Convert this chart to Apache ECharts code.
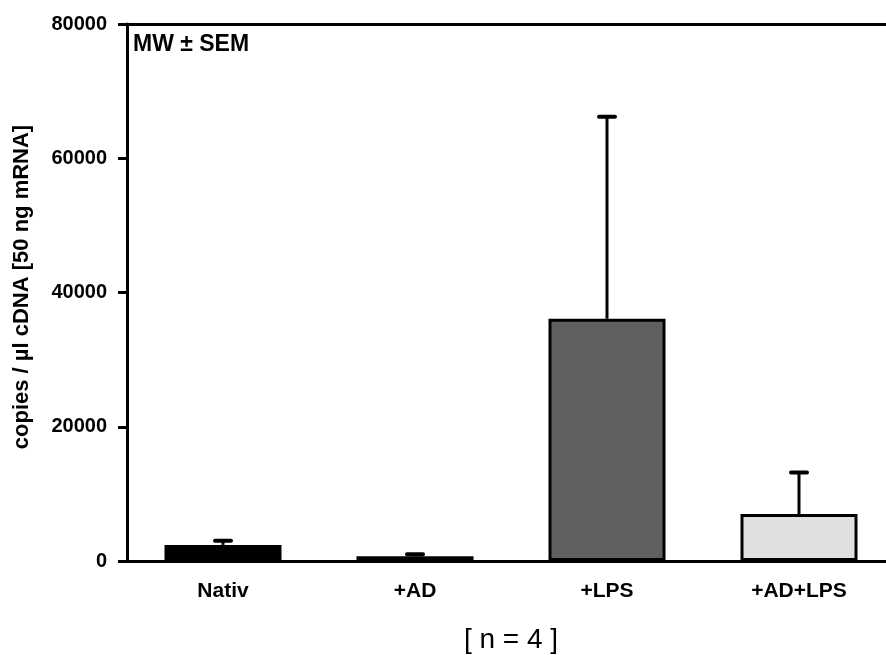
<!DOCTYPE html>
<html>
<head>
<meta charset="utf-8">
<script src="https://cdn.jsdelivr.net/npm/echarts@6/dist/echarts.min.js"></script>
<style>
  html, body { margin: 0; padding: 0; background: #fff; }
  #main { width: 886px; height: 655px; }
</style>
</head>
<body>
<div id="main"></div>
<script>
// data
var categories = ['Nativ', '+AD', '+LPS', '+AD+LPS'];
var means = [2400, 700, 36100, 7000];
var errTops = [3000, 1000, 66200, 13200];
var barColors = ['#000000', '#000000', '#606060', '#e0e0e0'];
var yTicks = [0, 20000, 40000, 60000, 80000];

var FONT = '"Liberation Sans", Arial, sans-serif';

function drawChart() {
    var myChart = echarts.init(document.getElementById('main'));

    var barData = means.map(function (v, i) {
        return { value: v, itemStyle: { color: barColors[i] } };
    });
    var errData = means.map(function (v, i) {
        return [i, v, errTops[i]];
    });

    var option = {
        animation: false,
        grid: { left: 127, top: 24, width: 768, height: 537, outerBoundsMode: 'none' },
        graphic: [
            {
                type: 'text', x: 133, y: 45,
                style: { text: 'MW ± SEM', font: 'bold 23px ' + FONT, fill: '#000', verticalAlign: 'middle' }
            },
            {
                type: 'text', x: 22, y: 287, rotation: Math.PI / 2,
                style: { text: 'copies / µl cDNA [50 ng mRNA]', font: 'bold 22px ' + FONT, fill: '#000', align: 'center', verticalAlign: 'middle' }
            },
            {
                type: 'text', x: 511, y: 640,
                style: { text: '[ n = 4 ]', font: '28px ' + FONT, fill: '#000', align: 'center', verticalAlign: 'middle' }
            }
        ],
        xAxis: [
            {
                type: 'category',
                data: categories,
                axisLine: { lineStyle: { color: '#000', width: 3 } },
                axisTick: { alignWithLabel: true, length: 7, lineStyle: { color: '#000', width: 1 } },
                axisLabel: { color: '#000', fontFamily: FONT, fontWeight: 'bold', fontSize: 21, margin: 20 }
            },
            {
                type: 'category',
                position: 'top',
                data: categories,
                axisLine: { lineStyle: { color: '#000', width: 3 } },
                axisTick: { show: false },
                axisLabel: { show: false }
            }
        ],
        yAxis: {
            type: 'value',
            min: yTicks[0],
            max: yTicks[yTicks.length - 1],
            interval: 20000,
            splitLine: { show: false },
            axisLine: { show: true, lineStyle: { color: '#000', width: 3 } },
            axisTick: { show: true, length: 9, lineStyle: { color: '#000', width: 3 } },
            axisLabel: {
                color: '#000', fontFamily: FONT, fontWeight: 'bold', fontSize: 20, margin: 20,
                formatter: function (v) { return String(v); }
            }
        },
        series: [
            {
                type: 'custom',
                z: 1,
                data: errData,
                renderItem: function (params, api) {
                    var base = api.coord([api.value(0), api.value(1)]);
                    var top = api.coord([api.value(0), api.value(2)]);
                    return {
                        type: 'group',
                        children: [
                            { type: 'line', shape: { x1: base[0], y1: base[1], x2: top[0], y2: top[1] }, style: { stroke: '#000', lineWidth: 3 } },
                            { type: 'line', shape: { x1: top[0] - 8, y1: top[1], x2: top[0] + 8, y2: top[1] }, style: { stroke: '#000', lineWidth: 4, lineCap: 'round' } }
                        ]
                    };
                }
            },
            {
                type: 'bar',
                z: 2,
                data: barData,
                barWidth: 117,
                itemStyle: { borderColor: '#000', borderWidth: 3 }
            }
        ]
    };

    myChart.setOption(option);
}

drawChart();
</script>
</body>
</html>
